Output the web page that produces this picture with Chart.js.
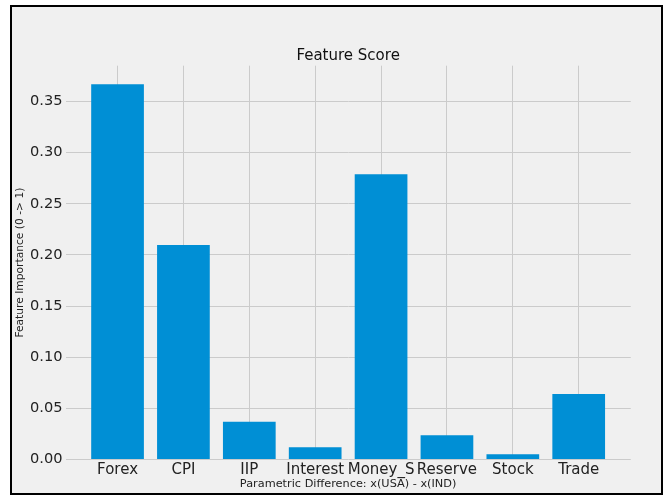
<!DOCTYPE html>
<html>
<head>
<meta charset="utf-8">
<script src="https://cdn.jsdelivr.net/npm/chart.js@4"></script>
<style>
  body { margin: 0; background: #fff; }
  #frame {
    position: absolute; left: 10px; top: 5px;
    width: 649px; height: 486px;
    border: 2px solid #000; background: #f0f0f0;
  }
  canvas { display: block; }
</style>
</head>
<body>
<div id="frame"><canvas id="myChart" width="649" height="486"></canvas></div>
<script>
// data
const categories = ["Forex", "CPI", "IIP", "Interest", "Money_S", "Reserve", "Stock", "Trade"];
const scores = [0.3668, 0.2097, 0.0370, 0.0119, 0.2788, 0.0237, 0.0051, 0.0640];
const yTicks = [0.00, 0.05, 0.10, 0.15, 0.20, 0.25, 0.30, 0.35];

const font = "'DejaVu Sans', sans-serif";

const ctx = document.getElementById("myChart").getContext("2d");
new Chart(ctx, {
  type: "bar",
  data: {
    datasets: [
      {
        data: categories.map((c, i) => ({ x: i, y: scores[i] })),
        backgroundColor: "#008fd5",
        borderWidth: 0,
        barPercentage: 1,
        categoryPercentage: 0.8,
      },
    ],
  },
  options: {
    responsive: false,
    animation: false,
    layout: { padding: { left: 0, right: 30.25, top: 0, bottom: 0 } },
    plugins: {
      legend: { display: false },
      tooltip: { enabled: false },
      title: {
        display: true,
        fullSize: false, // centre over the plot area, like matplotlib
        text: "Feature Score",
        color: "#111",
        font: { family: font, size: 15, weight: "normal" },
        padding: { top: 40, bottom: 0.7 },
      },
    },
    scales: {
      x: {
        type: "linear",
        offset: false,
        min: -0.79,
        max: 7.79,
        afterBuildTicks: (s) => { s.ticks = categories.map((c, i) => ({ value: i })); },
        afterFit: (s) => { s.height = 33.5; },
        grid: { color: "#cbcbcb", lineWidth: 1, drawTicks: false, offset: false },
        border: { display: false },
        ticks: {
          autoSkip: false,
          maxRotation: 0,
          padding: 2,
          color: "#222",
          font: { family: font, size: 15 },
          callback: (v) => categories[v],
        },
        title: {
          display: true,
          text: "Parametric Difference: x(USA) - x(IND)",
          color: "#222",
          font: { family: font, size: 11.3 },
          padding: { top: 0, bottom: 2 },
        },
      },
      y: {
        min: 0,
        max: 0.385,
        afterBuildTicks: (s) => { s.ticks = yTicks.map((v) => ({ value: v })); },
        afterFit: (s) => { s.width = 53.5; },
        grid: { color: "#cbcbcb", lineWidth: 1, drawTicks: false },
        border: { display: false },
        ticks: {
          padding: 3,
          color: "#222",
          font: { family: font, size: 14.6 },
          callback: (v) => v.toFixed(2),
        },
        title: {
          display: true,
          text: "Feature Importance (0 -> 1)",
          color: "#222",
          font: { family: font, size: 10.7 },
          padding: { top: 1.5, bottom: 0 },
        },
      },
    },
  },
});
</script>
</body>
</html>
